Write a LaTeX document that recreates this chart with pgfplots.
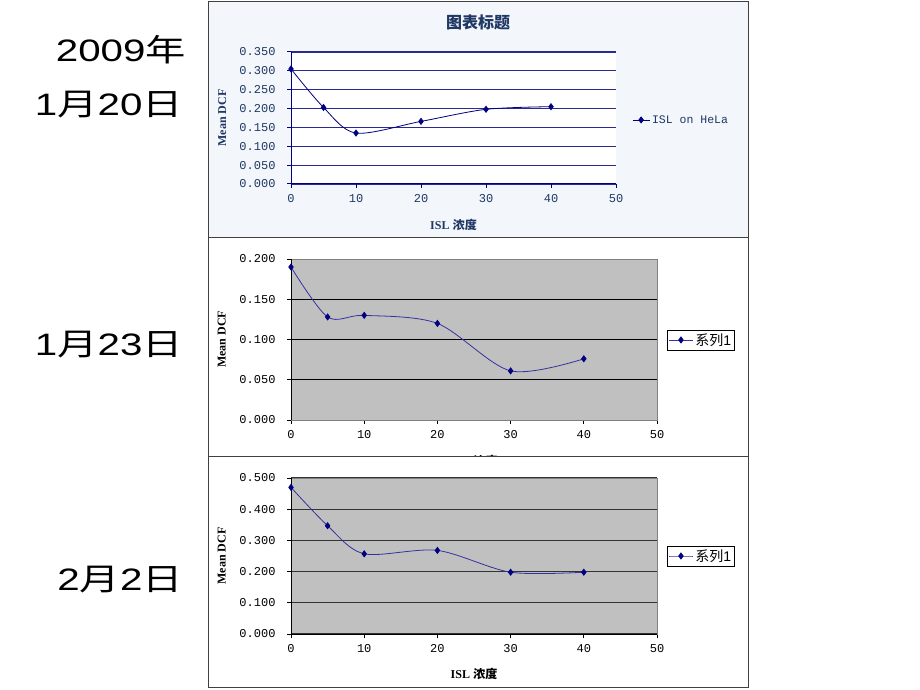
\documentclass[border=0pt]{standalone}
\usepackage{pgfplots}
\pgfplotsset{compat=1.18}
\usepackage{fontspec}
\setmainfont{Liberation Sans}
\newfontfamily\cjk{Noto Sans CJK SC}
\newfontfamily\mono{Liberation Mono}
\newfontfamily\serif{Liberation Serif}
\definecolor{navy}{HTML}{000080}
\definecolor{linec}{HTML}{3333A0}
\definecolor{ctext}{HTML}{1F3864}
\definecolor{panelbg}{HTML}{F3F6FB}
\definecolor{plotgray}{HTML}{C0C0C0}
\definecolor{grid1}{HTML}{2A2A90}
\pgfplotsset{
  common/.style={
    scale only axis, xmin=0, xmax=50, xtick={0,10,20,30,40,50},
    xticklabels={0,10,20,30,40,50},
    tick align=outside, major tick length=4pt,
    tick pos=left,
    ymajorgrids,
    ticklabel style={font=\fontsize{12}{12}\mono},
    yticklabel style={xshift=-8pt},
    xticklabel style={yshift=-3pt},
    ylabel={\serif\bfseries Mean DCF},
    xlabel={{\serif\bfseries ISL} {\cjk\bfseries 浓度}},
    label style={font=\fontsize{12}{12}\selectfont},
    legend cell align=left,
  },
  boxlegend/.style={
    legend image code/.code={\draw[mark repeat=2,mark phase=2] plot coordinates {(0pt,0pt) (12pt,0pt) (24pt,0pt)};},
  },
}
\begin{document}
\begin{tikzpicture}[x=1pt,y=1pt]
\useasboundingbox (0pt,0pt) rectangle (920pt,690pt);
\fill[white] (0pt,0pt) rectangle (920pt,690pt);
% left date labels
\node[anchor=east,inner sep=0] at (186pt,640pt) {\fontsize{31}{31}\selectfont\scalebox{1.3}[1]{2009{\cjk 年}}};
\node[anchor=east,inner sep=0] at (183pt,585pt) {\fontsize{31}{31}\selectfont\scalebox{1.3}[1]{1{\cjk 月}20{\cjk 日}}};
\node[anchor=east,inner sep=0] at (183pt,345pt) {\fontsize{31}{31}\selectfont\scalebox{1.3}[1]{1{\cjk 月}23{\cjk 日}}};
\node[anchor=east,inner sep=0] at (183pt,110pt) {\fontsize{31}{31}\selectfont\scalebox{1.3}[1]{2{\cjk 月}2{\cjk 日}}};

% ---------- panel 1 ----------
\filldraw[fill=panelbg,draw=black!75,line width=1pt] (208pt,688pt) rectangle (748pt,452pt);
\node[text=ctext] at (478pt,668pt) {\fontsize{16}{16}\cjk\bfseries 图表标题};
\begin{axis}[common,
  at={(291pt,506pt)}, anchor=south west, width=325pt, height=132pt,
  ymin=0, ymax=0.35, ytick={0,0.05,0.1,0.15,0.2,0.25,0.3,0.35},
  yticklabels={0.000,0.050,0.100,0.150,0.200,0.250,0.300,0.350},
  axis x line*=bottom, axis y line*=left,
  axis line style={navy, line width=1pt},
  tick style={navy, line width=1pt},
  major grid style={grid1, line width=1.1pt},
  ticklabel style={text=ctext},
  label style={text=ctext},
  axis background/.style={fill=white},
  xlabel style={at={(axis description cs:0.5,-0.31)}, anchor=center},
  ylabel style={at={(axis description cs:-0.212,0.5)}, anchor=center},
  legend style={at={(1.04,0.485)}, anchor=west, draw=none, fill=none,
    font=\fontsize{11.5}{12}\mono, text=ctext},
]
\addplot[navy, line width=0.8pt, smooth, mark=diamond*, mark size=3pt, mark options={fill=navy}]
  coordinates {(0,0.305) (5,0.203) (10,0.135) (20,0.166) (30,0.198) (40,0.205)};
\addlegendentry{ISL on HeLa}
\end{axis}

% ---------- panel 2 ----------
\draw[black!75,line width=1pt] (208pt,452pt) rectangle (748pt,233pt);
\begin{axis}[common, boxlegend,
  at={(291pt,270pt)}, anchor=south west, width=366pt, height=161pt,
  ymin=0, ymax=0.2, ytick={0,0.05,0.1,0.15,0.2},
  yticklabels={0.000,0.050,0.100,0.150,0.200},
  axis line style={black!50},
  tick style={black, line width=0.8pt},
  major grid style={black, line width=0.9pt},
  axis background/.style={fill=plotgray},
  xlabel style={at={(axis description cs:0.5,-0.255)}, anchor=center},
  ylabel style={at={(axis description cs:-0.189,0.5)}, anchor=center},
  legend style={at={(1.027,0.497)}, anchor=west, draw=black, fill=white,
    font=\fontsize{14}{14}\selectfont, inner sep=1.5pt},
]
\draw[black, line width=0.9pt] (rel axis cs:0,0) -- (rel axis cs:0,1);
\draw[black, line width=0.9pt] (rel axis cs:0,0) -- (rel axis cs:1,0);
\addplot[linec, line width=0.8pt, smooth, mark=diamond*, mark size=3pt, mark options={fill=navy, draw=navy}]
  coordinates {(0,0.190) (5,0.128) (10,0.130) (20,0.120) (30,0.061) (40,0.076)};
\addlegendentry{{\cjk 系列}1}
\end{axis}

% ---------- panel 3 ----------
\filldraw[fill=white,draw=black!75,line width=1pt] (208pt,233pt) rectangle (748pt,2pt);
\begin{axis}[common, boxlegend,
  at={(291pt,56pt)}, anchor=south west, width=366pt, height=156pt,
  ymin=0, ymax=0.5, ytick={0,0.1,0.2,0.3,0.4,0.5},
  yticklabels={0.000,0.100,0.200,0.300,0.400,0.500},
  axis line style={black!50},
  tick style={black, line width=0.8pt},
  major grid style={black!80, line width=1.2pt},
  axis background/.style={fill=plotgray},
  xlabel style={at={(axis description cs:0.5,-0.256)}, anchor=center},
  ylabel style={at={(axis description cs:-0.189,0.5)}, anchor=center},
  legend style={at={(1.027,0.5)}, anchor=west, draw=black, fill=white,
    font=\fontsize{14}{14}\selectfont, inner sep=1.5pt},
]
\draw[black, line width=0.9pt] (rel axis cs:0,0) -- (rel axis cs:0,1);
\draw[black, line width=0.9pt] (rel axis cs:0,0) -- (rel axis cs:1,0);
\addplot[linec, line width=0.8pt, smooth, mark=diamond*, mark size=3pt, mark options={fill=navy, draw=navy}]
  coordinates {(0,0.470) (5,0.347) (10,0.257) (20,0.268) (30,0.198) (40,0.198)};
\addlegendentry{{\cjk 系列}1}
\end{axis}
\end{tikzpicture}
\end{document}
